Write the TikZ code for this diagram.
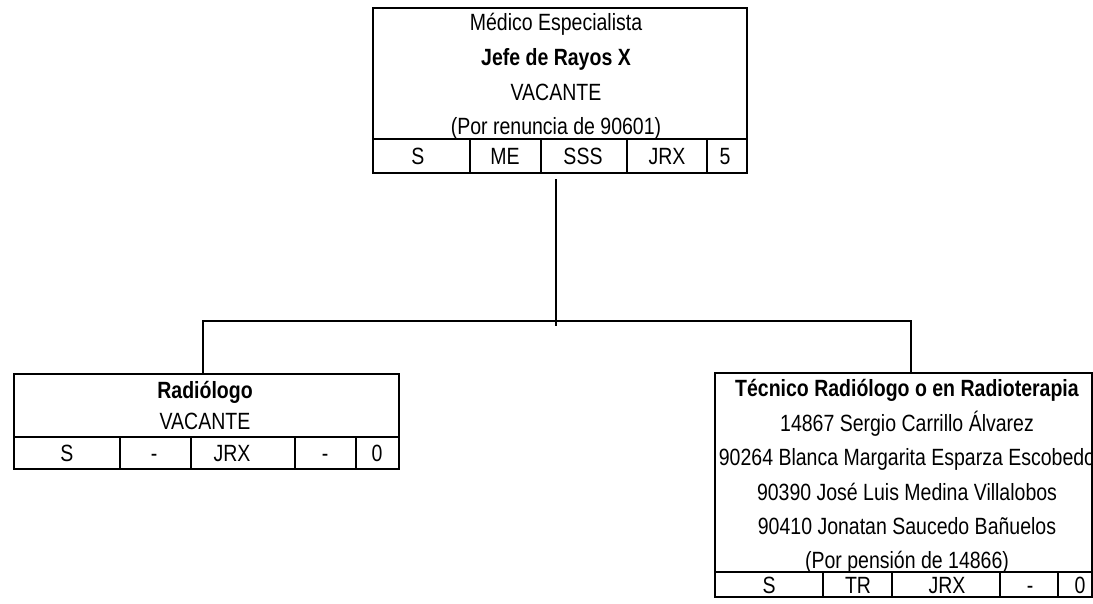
\documentclass[tikz,border=0pt]{standalone}
\usepackage{fontspec}
\setmainfont{Liberation Sans}[FakeStretch=0.83]
\usetikzlibrary{positioning}

\begin{document}
\begin{tikzpicture}[x=1pt,y=-1pt,
  box/.style={draw, line width=2pt, anchor=north west, inner sep=0pt},
  rule/.style={line width=1.6pt},
  link/.style={line width=2pt},
  cell/.style={font=\fontsize{23.5}{24}\selectfont, inner sep=0pt, text height=16.8pt, text depth=0pt}]
\useasboundingbox (0,0) rectangle (1093,603);
% boxes
\node[box, minimum width=374pt, minimum height=165pt] (jefe) at (372,7) {};
\node[box, minimum width=385pt, minimum height=95pt] (radiologo) at (13,373) {};
\node[box, minimum width=377pt, minimum height=224pt] (tecnico) at (714,372) {};
% code rows
\draw[rule] (372,139) -- (746,139);
\foreach \x in {470,541,627,707} \draw[rule] (\x,139) -- (\x,172);
\draw[rule] (13,437) -- (398,437);
\foreach \x in {120,191,295,356} \draw[rule] (\x,437) -- (\x,468);
\draw[rule] (714,572) -- (1091,572);
\foreach \x in {823,892,1000,1058} \draw[rule] (\x,572) -- (\x,596);
% jefe
\node[cell] (j1) at (556,22) {Médico Especialista};
\node[cell] (j2) at (556,57) {\textbf{Jefe de Rayos X}};
\node[cell] (j3) at (556,92) {VACANTE};
\node[cell] (j4) at (556,126) {(Por renuncia de 90601)};
\foreach \t/\x in {S/418,ME/505,SSS/583,JRX/667,5/725} \node[cell] at (\x,156) {\t};
% radiologo
\node[cell] (r1) at (205,390) {\textbf{Radiólogo}};
\node[cell] (r2) at (205,421) {VACANTE};
\foreach \t/\x in {S/67,-/154,JRX/232,-/325,0/377} \node[cell] at (\x,453) {\t};
% tecnico
\node[cell] (t1) at (907,388) {\textbf{Técnico Radiólogo o en Radioterapia}};
\node[cell] (t2) at (907,423) {14867 Sergio Carrillo Álvarez};
\node[cell] (t3) at (907,457) {90264 Blanca Margarita Esparza Escobedo};
\node[cell] (t4) at (907,492) {90390 José Luis Medina Villalobos};
\node[cell] (t5) at (907,526) {90410 Jonatan Saucedo Bañuelos};
\node[cell] (t6) at (907,560) {(Por pensión de 14866)};
\foreach \t/\x in {S/769,TR/858,JRX/947,-/1030,0/1080} \node[cell] at (\x,585) {\t};
% connectors
\coordinate (stem) at (556,179);
\coordinate (bus) at (556,321);
\coordinate (lft) at (203,373);
\coordinate (rgt) at (911,372);
\draw[link] (stem) -- ([yshift=-5pt]bus);
\draw[link] (lft) |- (bus) -| (rgt);
\end{tikzpicture}
\end{document}
